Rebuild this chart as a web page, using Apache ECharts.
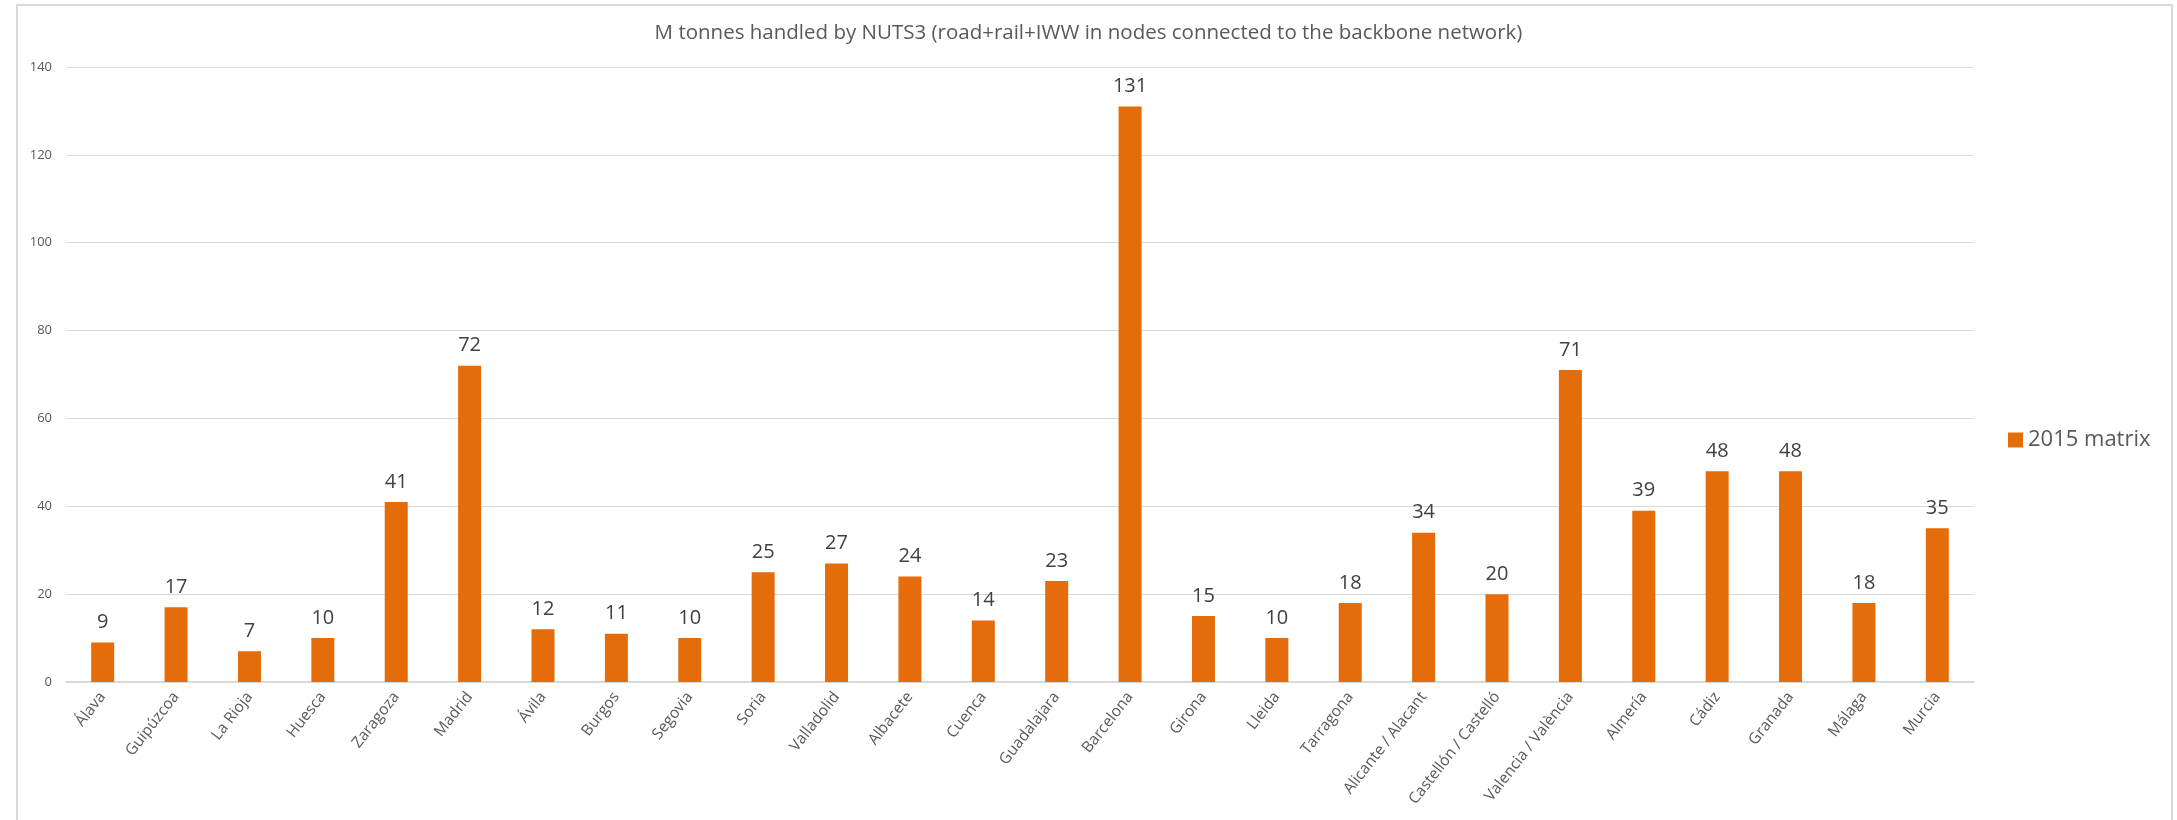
<!DOCTYPE html>
<html>
<head>
<meta charset="utf-8">
<title>M tonnes handled by NUTS3</title>
<script src="https://cdn.jsdelivr.net/npm/echarts@6/dist/echarts.min.js"></script>
<style>
  html, body { margin: 0; padding: 0; background: #ffffff; }
  #chart { width: 2177px; height: 820px; }
</style>
</head>
<body>
<div id="chart"></div>
<script>
// Provinces (NUTS3) in the order they appear along the axis
const provinces = [
  'Álava', 'Guipúzcoa', 'La Rioja', 'Huesca', 'Zaragoza', 'Madrid', 'Ávila',
  'Burgos', 'Segovia', 'Soria', 'Valladolid', 'Albacete', 'Cuenca',
  'Guadalajara', 'Barcelona', 'Girona', 'Lleida', 'Tarragona',
  'Alicante / Alacant', 'Castellón / Castelló', 'Valencia / València',
  'Almería', 'Cádiz', 'Granada', 'Málaga', 'Murcia'
];

// Million tonnes handled, 2015 matrix
const matrix2015 = [
  9, 17, 7, 10, 41, 72, 12,
  11, 10, 25, 27, 24, 14,
  23, 131, 15, 10, 18,
  34, 20, 71,
  39, 48, 48, 18, 35
];

const seriesName = '2015 matrix';
const chartTitle = 'M tonnes handled by NUTS3 (road+rail+IWW in nodes connected to the backbone network)';

const FONT = '"Open Sans", "Noto Sans", sans-serif';
const TEXT_GREY = '#595959';
const GRID_GREY = '#d9d9d9';
const ORANGE = '#E46C0A';

const chart = echarts.init(document.getElementById('chart'), null, { renderer: 'canvas' });

chart.setOption({
  backgroundColor: '#ffffff',
  animation: false,
  textStyle: { fontFamily: FONT },
  graphic: [{
    type: 'rect',
    shape: { x: 17, y: 5, width: 2155, height: 830 },
    style: { fill: 'none', stroke: '#d9d9d9', lineWidth: 2 },
    silent: true,
    z: -1
  }],
  title: {
    text: chartTitle,
    left: 'center',
    top: 18,
    textStyle: { fontFamily: FONT, fontSize: 20.5, fontWeight: 'normal', color: TEXT_GREY }
  },
  legend: {
    data: [seriesName],
    left: 2003,
    top: 424,
    icon: 'rect',
    itemWidth: 15,
    itemHeight: 15,
    itemGap: 8,
    textStyle: { fontFamily: FONT, fontSize: 22, color: TEXT_GREY }
  },
  grid: { left: 66, right: 203, top: 67, bottom: 138, containLabel: false },
  xAxis: {
    type: 'category',
    data: provinces,
    axisLine: { show: true, lineStyle: { color: GRID_GREY, width: 2 } },
    axisTick: { show: false },
    axisLabel: {
      interval: 0,
      rotate: 52,
      margin: 12,
      fontFamily: FONT,
      fontSize: 15.5,
      color: TEXT_GREY
    }
  },
  yAxis: {
    type: 'value',
    min: 0,
    max: 140,
    interval: 20,
    axisLine: { show: false },
    axisTick: { show: false },
    splitLine: { lineStyle: { color: GRID_GREY, width: 1 } },
    axisLabel: { margin: 14, fontFamily: FONT, fontSize: 13, color: TEXT_GREY }
  },
  series: [{
    name: seriesName,
    type: 'bar',
    data: matrix2015,
    barWidth: 23,
    itemStyle: { color: ORANGE },
    label: {
      show: true,
      position: 'top',
      distance: 10,
      fontFamily: FONT,
      fontSize: 20,
      color: '#404040'
    }
  }]
});
</script>
</body>
</html>
